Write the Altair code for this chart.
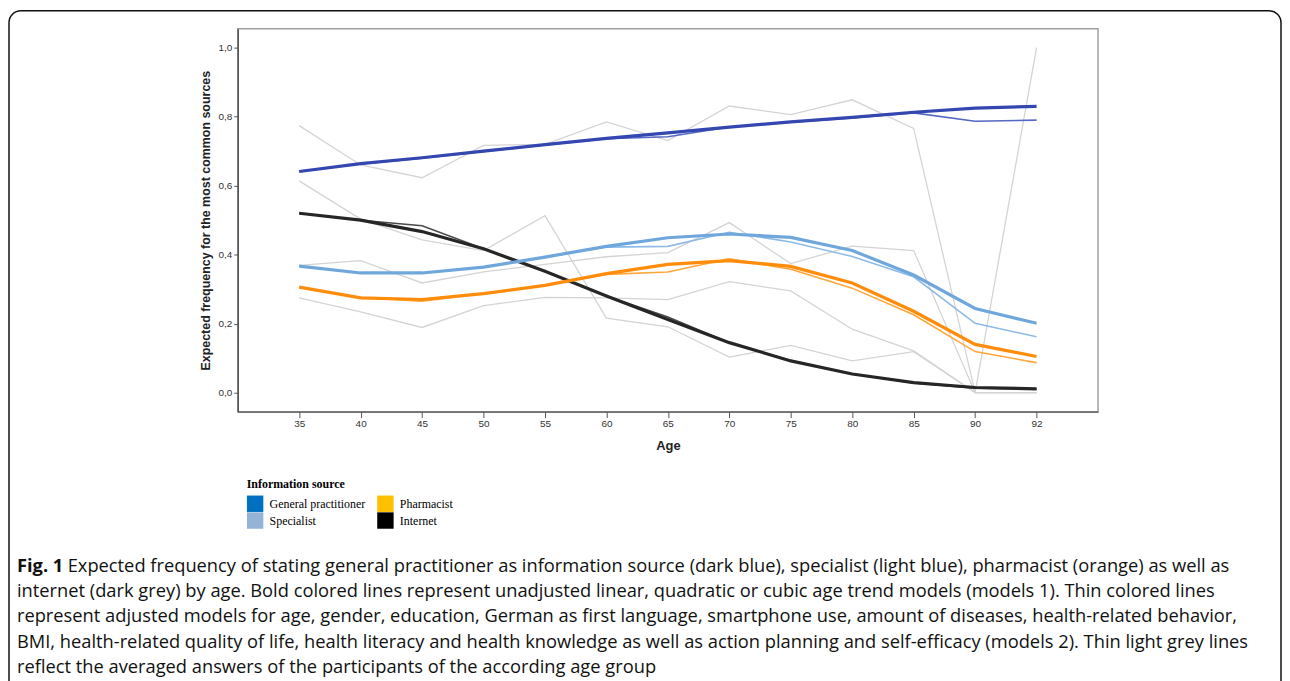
import altair as alt
import pandas as pd

ages = [35, 40, 45, 50, 55, 60, 65, 70, 75, 80, 85, 90, 92]

# Bold lines: unadjusted models (models 1)
gp_bold = [0.641, 0.664, 0.681, 0.700, 0.719, 0.737, 0.753, 0.770, 0.785, 0.798, 0.813, 0.825, 0.830]
spec_bold = [0.367, 0.347, 0.347, 0.364, 0.393, 0.424, 0.449, 0.460, 0.450, 0.412, 0.341, 0.244, 0.201]
pharm_bold = [0.306, 0.275, 0.270, 0.287, 0.311, 0.345, 0.372, 0.383, 0.366, 0.318, 0.236, 0.140, 0.105]
int_bold = [0.520, 0.500, 0.467, 0.417, 0.352, 0.280, 0.212, 0.145, 0.092, 0.054, 0.029, 0.015, 0.011]

# Thin lines: adjusted models (models 2)
gp_thin = [0.641, 0.663, 0.680, 0.699, 0.718, 0.736, 0.742, 0.770, 0.784, 0.796, 0.811, 0.787, 0.790]
spec_thin = [0.367, 0.347, 0.347, 0.364, 0.393, 0.422, 0.424, 0.465, 0.437, 0.395, 0.336, 0.201, 0.162]
pharm_thin = [0.306, 0.275, 0.265, 0.287, 0.311, 0.343, 0.350, 0.388, 0.358, 0.303, 0.226, 0.119, 0.087]
int_thin = [0.520, 0.500, 0.484, 0.417, 0.352, 0.280, 0.219, 0.145, 0.093, 0.054, 0.028, 0.013, 0.010]

# Thin light grey lines: averaged answers per age group
gp_raw = [0.774, 0.660, 0.623, 0.717, 0.720, 0.785, 0.731, 0.831, 0.806, 0.849, 0.766, 0.0, 1.0]
spec_raw = [0.369, 0.383, 0.318, 0.350, 0.372, 0.394, 0.406, 0.493, 0.374, 0.425, 0.412, 0.0, 0.0]
pharm_raw = [0.275, 0.234, 0.189, 0.252, 0.276, 0.275, 0.270, 0.322, 0.295, 0.184, 0.121, 0.0, 0.0]
int_raw = [0.614, 0.503, 0.443, 0.412, 0.513, 0.216, 0.191, 0.103, 0.137, 0.092, 0.119, 0.0, 0.0]

series_names = ["GP bold", "Spec bold", "Pharm bold", "Int bold",
                "GP thin", "Spec thin", "Pharm thin", "Int thin",
                "GP raw", "Spec raw", "Pharm raw", "Int raw"]
series_colors = ["#3447B0", "#6FA7DC", "#FF8C0A", "#262626",
                 "#5468C4", "#8DBAE6", "#FFA638", "#4A4A4A",
                 "#D4D4D4", "#D4D4D4", "#D4D4D4", "#D4D4D4"]

legend_names = ["General practitioner", "Specialist", "Pharmacist", "Internet"]
legend_colors = ["#0070C0", "#95B3D7", "#FFC000", "#000000"]

y_ticks = [0.0, 0.2, 0.4, 0.6, 0.8, 1.0]

caption_bold = "Fig. 1"
caption_first = ("Expected frequency of stating general practitioner as information source (dark blue), "
                 "specialist (light blue), pharmacist (orange) as well as")
caption_rest = [
    "internet (dark grey) by age. Bold colored lines represent unadjusted linear, quadratic or cubic age trend models (models 1). Thin colored lines",
    "represent adjusted models for age, gender, education, German as first language, smartphone use, amount of diseases, health-related behavior,",
    "BMI, health-related quality of life, health literacy and health knowledge as well as action planning and self-efficacy (models 2). Thin light grey lines",
    "reflect the averaged answers of the participants of the according age group",
]

groups = {
    "raw": [("GP raw", gp_raw), ("Spec raw", spec_raw), ("Pharm raw", pharm_raw), ("Int raw", int_raw)],
    "thin": [("GP thin", gp_thin), ("Spec thin", spec_thin), ("Pharm thin", pharm_thin), ("Int thin", int_thin)],
    "bold": [("Int bold", int_bold), ("Pharm bold", pharm_bold), ("Spec bold", spec_bold), ("GP bold", gp_bold)],
}


def frame(kind):
    rows = []
    for name, vals in groups[kind]:
        for a, v in zip(ages, vals):
            rows.append({"age": a, "value": v, "series": name})
    return pd.DataFrame(rows)


x_enc = alt.X(
    "age:O", sort=ages,
    scale=alt.Scale(type="point", padding=1.21),
    axis=alt.Axis(title="Age", labelAngle=0, tickSize=6, labelPadding=1,
                  labelFontSize=10, labelFont="Liberation Sans Narrow, Liberation Sans",
                  titleFontSize=13, titleFontWeight="bold", titlePadding=11,
                  titleFont="Liberation Sans Narrow, Liberation Sans"),
)
y_enc = alt.Y(
    "value:Q",
    scale=alt.Scale(domain=[-0.055, 1.055], nice=False, zero=False),
    axis=alt.Axis(title="Expected frequency for the most common sources",
                  values=y_ticks, labelExpr="replace(format(datum.value, '.1f'), '.', ',')",
                  tickSize=4, labelPadding=2, labelFontSize=10, grid=False,
                  titleFontSize=12.5, titleFontWeight="bold", titlePadding=5),
)
color_enc = alt.Color("series:N", scale=alt.Scale(domain=series_names, range=series_colors), legend=None)

raw_layer = alt.Chart(frame("raw")).mark_line(strokeWidth=1.3).encode(
    x=x_enc, y=y_enc, color=color_enc, detail="series:N")
thin_layer = alt.Chart(frame("thin")).mark_line(strokeWidth=1.6).encode(
    x=x_enc, y=y_enc, color=color_enc, detail="series:N")
bold_layer = alt.Chart(frame("bold")).mark_line(strokeWidth=3.2).encode(
    x=x_enc, y=y_enc, color=color_enc, detail="series:N")

legend_df = pd.DataFrame({"source": legend_names, "age": [35] * 4, "value": [0.5] * 4})
legend_layer = alt.Chart(legend_df).mark_square(opacity=0).encode(
    x=alt.X("age:O", sort=ages),
    y=alt.Y("value:Q"),
    fill=alt.Fill("source:N", scale=alt.Scale(domain=legend_names, range=legend_colors),
                  legend=alt.Legend(title="Information source", orient="none",
                                    legendX=9, legendY=453, columns=2, direction="vertical",
                                    symbolType="square", symbolSize=272, symbolOpacity=1,
                                    symbolStrokeWidth=0, rowPadding=0, columnPadding=11,
                                    labelOffset=6, labelFont="Liberation Serif", labelFontSize=12,
                                    labelColor="#000", titleFont="Liberation Serif",
                                    titleFontSize=12, titleFontWeight="bold", titleColor="#000",
                                    titlePadding=4, padding=0)),
)

border = alt.Chart(pd.DataFrame({"k": [0]})).mark_rect(
    fillOpacity=0, stroke="#111", strokeWidth=1.5, cornerRadius=12
).encode(x=alt.value(-230), x2=alt.value(1049), y=alt.value(-18), y2=alt.value(720))

cap_font = "Open Sans"
cap_size = 18.4
cap1 = alt.Chart(pd.DataFrame({"t": [caption_bold]})).mark_text(
    align="left", baseline="middle", font=cap_font, fontSize=cap_size, fontWeight="bold", color="#111"
).encode(x=alt.value(-222), y=alt.value(540), text="t:N")
cap2 = alt.Chart(pd.DataFrame({"t": [caption_first]})).mark_text(
    align="left", baseline="middle", font=cap_font, fontSize=cap_size, color="#111"
).encode(x=alt.value(-171), y=alt.value(540), text="t:N")
cap3 = alt.Chart(pd.DataFrame({"t": ["\n".join(caption_rest)]})).mark_text(
    align="left", baseline="middle", font=cap_font, fontSize=cap_size, color="#111",
    lineBreak="\n", lineHeight=25.5
).encode(x=alt.value(-222), y=alt.value(565.5), text="t:N")

chart = alt.layer(border, raw_layer, thin_layer, bold_layer, legend_layer, cap1, cap2, cap3).properties(
    width=865, height=385,
    padding={"left": 231, "top": 19, "right": 185, "bottom": 269},
    autosize=alt.AutoSizeParams(type="none"),
).configure_view(
    stroke="#A0A0A0", strokeWidth=1.5
).configure_axis(
    domainColor="#555", domainWidth=1.5, tickColor="#555", labelColor="#333",
    titleColor="#222", labelFont="Liberation Sans", titleFont="Liberation Sans"
)

chart.save("out.html", embed_options={"renderer": "svg", "actions": False})
